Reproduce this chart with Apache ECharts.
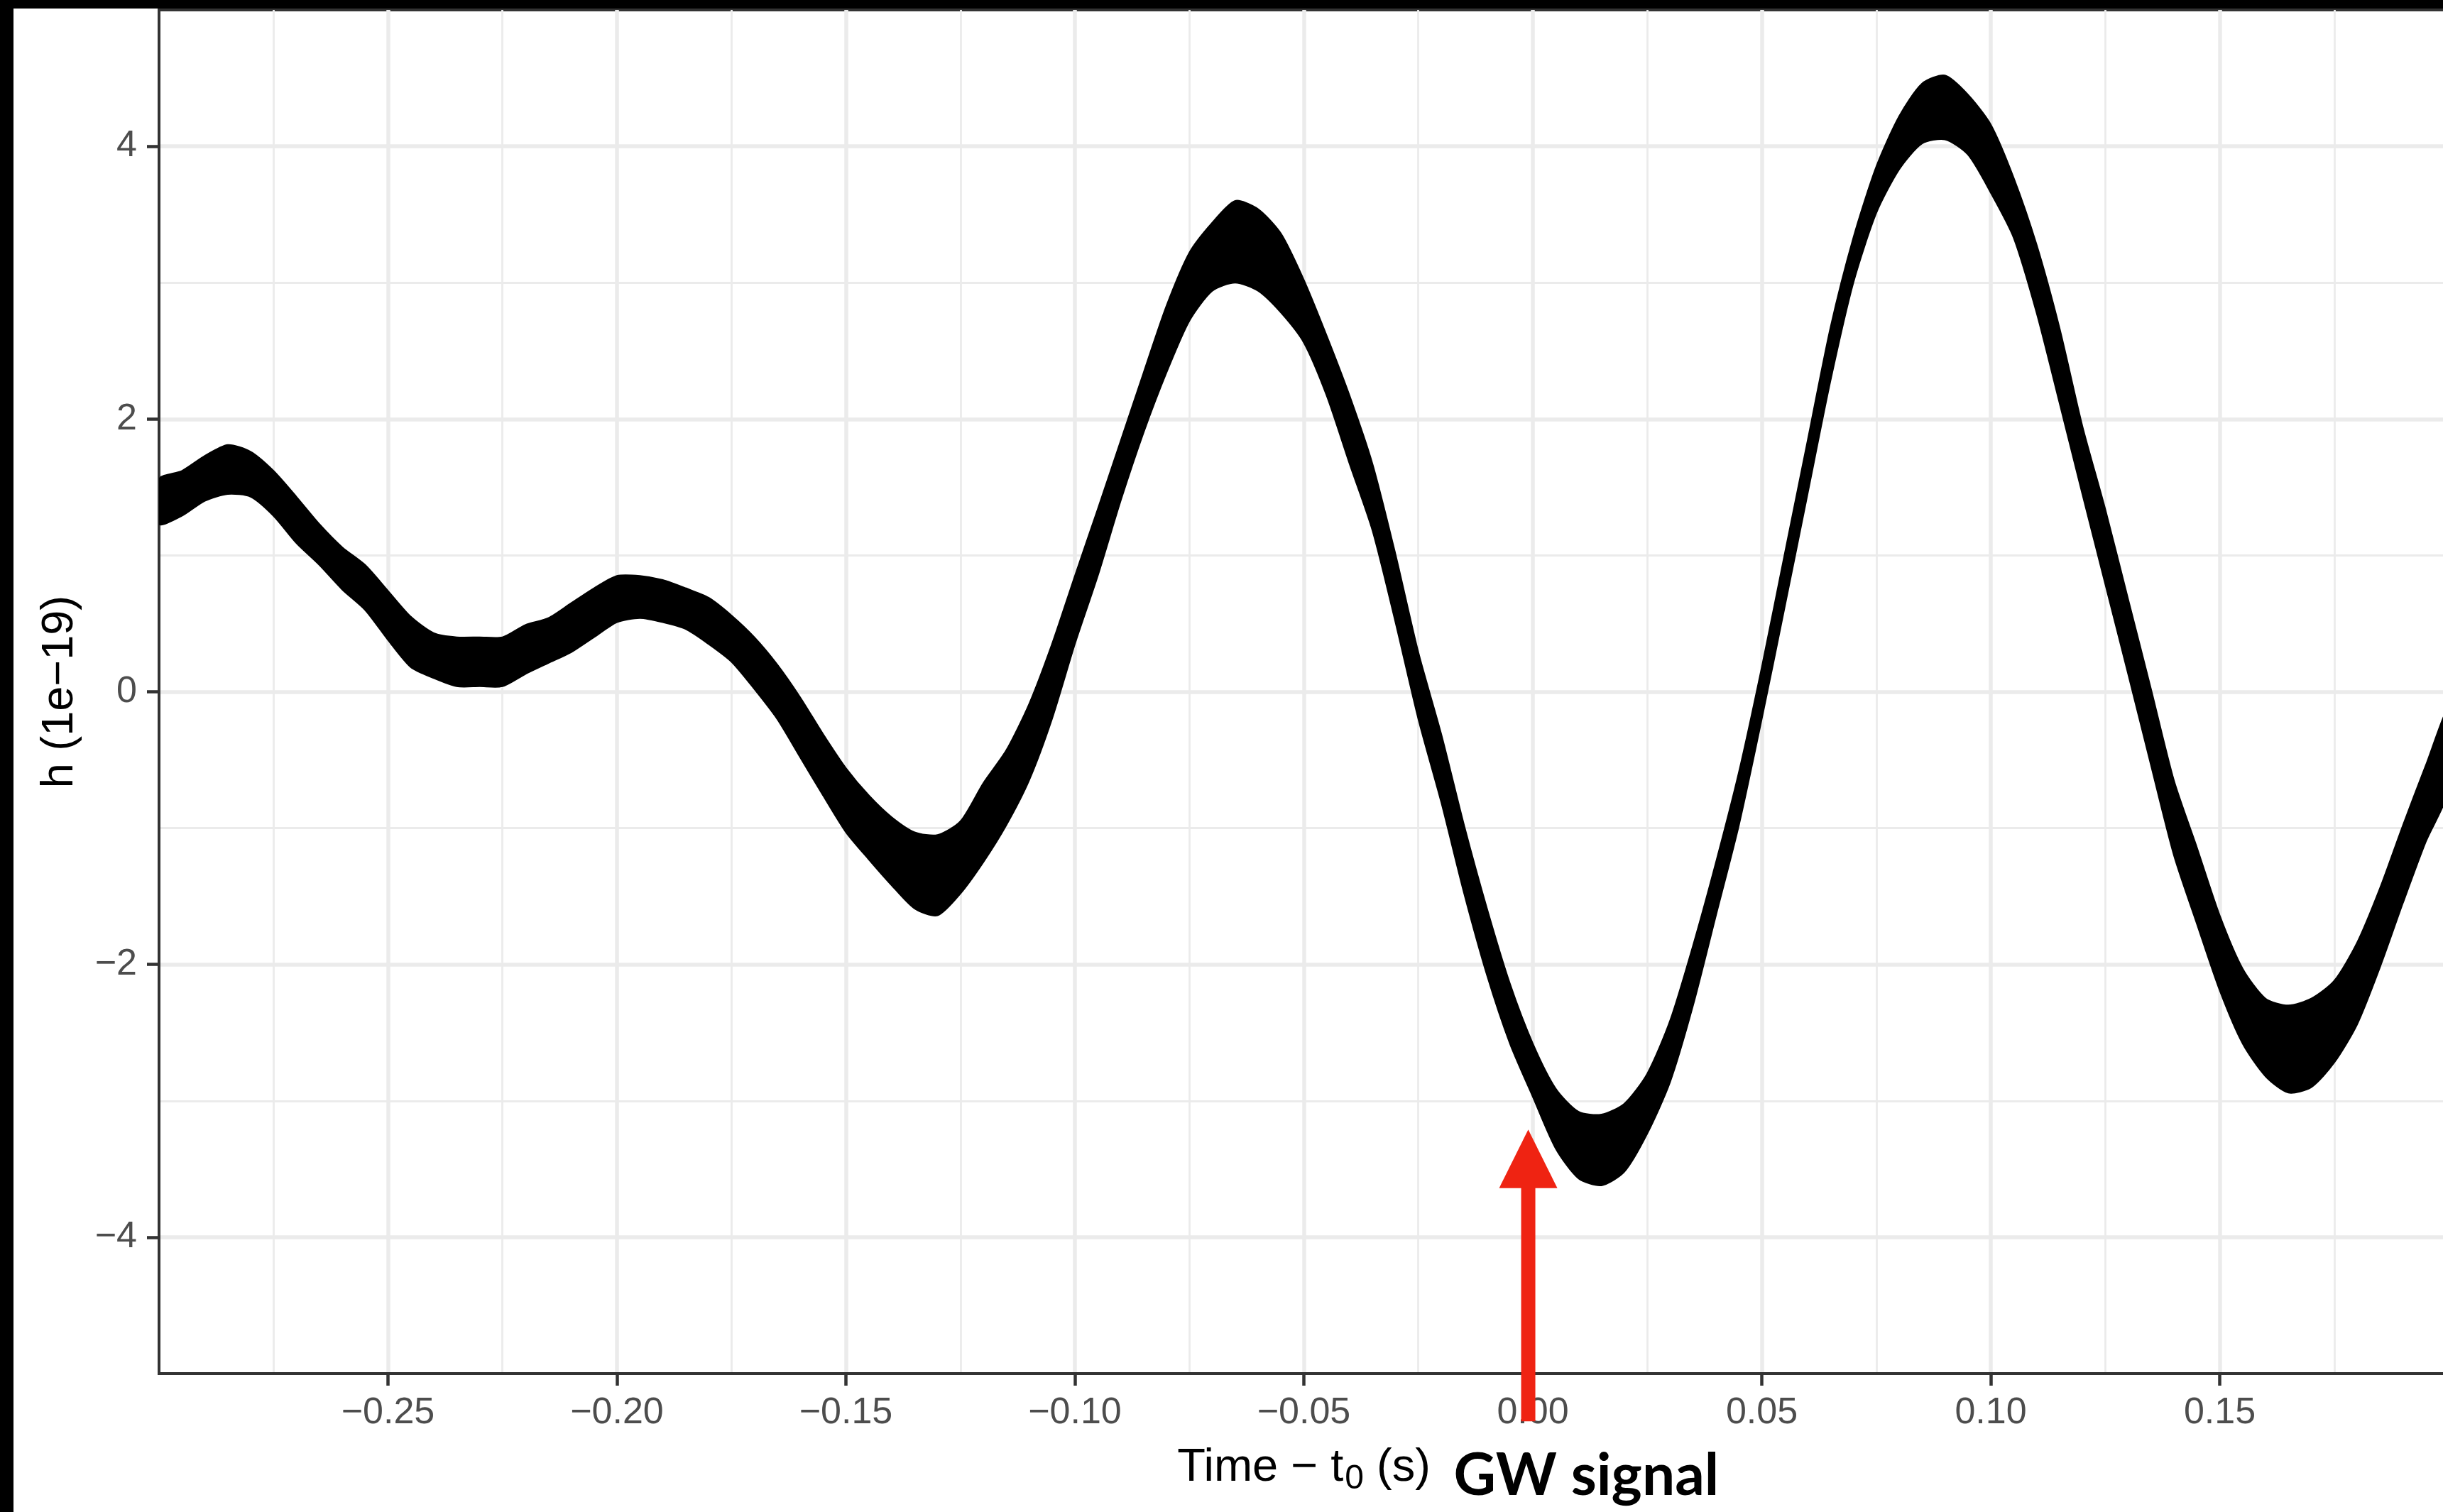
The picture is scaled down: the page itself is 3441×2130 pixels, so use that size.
<!DOCTYPE html>
<html>
<head>
<meta charset="utf-8">
<script src="https://cdn.jsdelivr.net/npm/echarts@6/dist/echarts.min.js"></script>
<style>
html, body { margin: 0; padding: 0; background: #000; width: 3441px; height: 2130px; overflow: hidden; }
#chart { position: absolute; left: 19px; top: 12px; width: 3422px; height: 2118px; background: #fff; }
</style>
</head>
<body>
<div id="chart"></div>
<script>
// sample times, s (every 5 ms)
var times = [
  -0.300, -0.295, -0.290, -0.285, -0.280, -0.275, -0.270, -0.265, -0.260, -0.255,
  -0.250, -0.245, -0.240, -0.235, -0.230, -0.225, -0.220, -0.215, -0.210, -0.205,
  -0.200, -0.195, -0.190, -0.185, -0.180, -0.175, -0.170, -0.165, -0.160, -0.155,
  -0.150, -0.145, -0.140, -0.135, -0.130, -0.125, -0.120, -0.115, -0.110, -0.105,
  -0.100, -0.095, -0.090, -0.085, -0.080, -0.075, -0.070, -0.065, -0.060, -0.055,
  -0.050, -0.045, -0.040, -0.035, -0.030, -0.025, -0.020, -0.015, -0.010, -0.005,
  0.000, 0.005, 0.010, 0.015, 0.020, 0.025, 0.030, 0.035, 0.040, 0.045,
  0.050, 0.055, 0.060, 0.065, 0.070, 0.075, 0.080, 0.085, 0.090, 0.095,
  0.100, 0.105, 0.110, 0.115, 0.120, 0.125, 0.130, 0.135, 0.140, 0.145,
  0.150, 0.155, 0.160, 0.165, 0.170, 0.175, 0.180, 0.185, 0.190, 0.195,
  0.200
];
// top edge of the noisy strain trace (1e-19)
var upper = [
  1.56, 1.62, 1.73, 1.81, 1.76, 1.62, 1.43, 1.23, 1.06, 0.93,
  0.74, 0.55, 0.43, 0.40, 0.40, 0.40, 0.49, 0.54, 0.65, 0.76,
  0.85, 0.85, 0.82, 0.76, 0.69, 0.56, 0.40, 0.20, -0.04, -0.31,
  -0.56, -0.76, -0.92, -1.03, -1.05, -0.95, -0.67, -0.43, -0.09, 0.35,
  0.85, 1.34, 1.84, 2.34, 2.83, 3.22, 3.44, 3.60, 3.54, 3.36,
  3.02, 2.61, 2.17, 1.67, 1.01, 0.29, -0.31, -0.98, -1.59, -2.14,
  -2.58, -2.91, -3.08, -3.10, -3.02, -2.80, -2.41, -1.86, -1.25, -0.59,
  0.18, 1.01, 1.84, 2.67, 3.33, 3.85, 4.22, 4.46, 4.52, 4.38,
  4.16, 3.77, 3.28, 2.67, 1.95, 1.34, 0.68, 0.02, -0.65, -1.14,
  -1.64, -2.03, -2.25, -2.30, -2.25, -2.12, -1.84, -1.44, -0.98, -0.54,
  -0.12
];
// bottom edge of the trace (1e-19)
var lower = [
  1.23, 1.29, 1.40, 1.45, 1.43, 1.29, 1.09, 0.93, 0.75, 0.60,
  0.38, 0.18, 0.10, 0.04, 0.04, 0.04, 0.13, 0.21, 0.29, 0.40,
  0.51, 0.54, 0.51, 0.46, 0.35, 0.22, 0.02, -0.20, -0.48, -0.76,
  -1.03, -1.23, -1.42, -1.59, -1.64, -1.48, -1.25, -0.98, -0.65, -0.20,
  0.35, 0.85, 1.40, 1.90, 2.34, 2.72, 2.94, 3.00, 2.94, 2.78,
  2.56, 2.17, 1.67, 1.18, 0.51, -0.20, -0.81, -1.48, -2.08, -2.58,
  -2.97, -3.35, -3.57, -3.62, -3.52, -3.24, -2.86, -2.30, -1.64, -0.98,
  -0.20, 0.62, 1.45, 2.28, 3.00, 3.51, 3.83, 4.02, 4.05, 3.94,
  3.66, 3.33, 2.78, 2.12, 1.45, 0.79, 0.13, -0.54, -1.20, -1.70,
  -2.19, -2.58, -2.82, -2.94, -2.90, -2.72, -2.44, -2.02, -1.55, -1.10,
  -0.72
];
var xTicks = [-0.25, -0.2, -0.15, -0.1, -0.05, 0, 0.05, 0.1, 0.15];
var xMinor = [-0.275, -0.225, -0.175, -0.125, -0.075, -0.025, 0.025, 0.075, 0.125, 0.175];
var yTicks = [-4, -2, 0, 2, 4];
var yMinor = [-3, -1, 1, 3];
// arrow marking the signal (data units)
var arrowX = -0.001, arrowFoot = -5.35, arrowBase = -3.64, arrowTip = -3.21;
var arrowText = 'GW signal';

var red = '#ef2312';
var chart = echarts.init(document.getElementById('chart'));

function minus(v, s) { return (v < -1e-9 ? '\u2212' : '') + s; }

var bandRows = times.map(function (t, i) { return [t, lower[i], upper[i]]; });

chart.setOption({
  animation: false,
  grid: {
    left: 205, right: -8, top: 2, bottom: 195,
    show: true, borderColor: '#333333', borderWidth: 4, backgroundColor: '#ffffff',
    outerBoundsMode: 'none'
  },
  xAxis: [{
    type: 'value', min: -0.3, max: 0.2, interval: 0.05,
    name: '{a|Time \u2212 t}{s|0}{a| (s)}', nameLocation: 'middle', nameGap: 93,
    nameTextStyle: {
      rich: {
        a: { fontSize: 65, color: '#000', fontFamily: 'Liberation Sans' },
        s: { fontSize: 48, color: '#000', fontFamily: 'Liberation Sans', verticalAlign: 'top', padding: [32, 0, 0, 2] }
      }
    },
    axisLine: { onZero: false, lineStyle: { color: '#333333', width: 4 } },
    axisTick: { customValues: xTicks, length: 17, lineStyle: { color: '#333333', width: 4.5 } },
    axisLabel: {
      customValues: xTicks, margin: 30, fontSize: 52, color: '#4d4d4d', fontFamily: 'Liberation Sans',
      formatter: function (v) { return minus(v, Math.abs(v).toFixed(2)); }
    },
    splitLine: { show: true, lineStyle: { color: '#ebebeb', width: 5.5 } }
  }, {
    type: 'value', min: -0.3, max: 0.2, interval: 0.05, position: 'bottom',
    axisLine: { show: false, onZero: false },
    axisTick: { show: false, customValues: xMinor },
    axisLabel: { show: false },
    splitLine: { show: true, lineStyle: { color: '#ebebeb', width: 2.8 } }
  }],
  yAxis: [{
    type: 'value', min: -5, max: 5, interval: 1,
    name: 'h (1e\u221219)', nameLocation: 'middle', nameGap: 108,
    nameTextStyle: { fontSize: 63, color: '#000', fontFamily: 'Liberation Sans' },
    axisLine: { show: true, onZero: false, lineStyle: { color: '#333333', width: 4 } },
    axisTick: { show: true, customValues: yTicks, length: 17, lineStyle: { color: '#333333', width: 4.5 } },
    axisLabel: {
      customValues: yTicks, margin: 31, fontSize: 52, color: '#4d4d4d', fontFamily: 'Liberation Sans',
      formatter: function (v) { return minus(v, String(Math.abs(v))); }
    },
    splitLine: { show: true, lineStyle: { color: '#ebebeb', width: 5.5 } }
  }, {
    type: 'value', min: -5, max: 5, interval: 1, position: 'left',
    axisLine: { show: false, onZero: false },
    axisTick: { show: false, customValues: yMinor },
    axisLabel: { show: false },
    splitLine: { show: true, lineStyle: { color: '#ebebeb', width: 2.8 } }
  }],
  series: [{
    type: 'custom',
    name: 'h',
    xAxisIndex: 0,
    yAxisIndex: 0,
    silent: true,
    clip: true,
    z: 3,
    data: bandRows,
    encode: { x: 0, y: [1, 2] },
    // the whole band is one smoothed outline: top edge left→right, bottom edge back
    renderItem: function (params, api) {
      if (params.dataIndex !== 0) return null;
      var pts = [];
      for (var i = 0; i < times.length; i++) pts.push(api.coord([times[i], upper[i]]));
      for (var j = times.length - 1; j >= 0; j--) pts.push(api.coord([times[j], lower[j]]));
      return {
        type: 'polygon',
        shape: { points: pts, smooth: 0.25 },
        style: { fill: '#000', stroke: '#000', lineWidth: 2 }
      };
    }
  }]
});

// arrow + label, placed through the axes
var px = function (t, v) { return chart.convertToPixel({ gridIndex: 0 }, [t, v]); };
var tip = px(arrowX, arrowTip), base = px(arrowX, arrowBase), foot = px(arrowX, arrowFoot);
chart.setOption({
  graphic: [{
    type: 'rect', z: 100, silent: true,
    shape: { x: base[0] - 10, y: base[1] - 1, width: 20, height: foot[1] - base[1] + 1 },
    style: { fill: red }
  }, {
    type: 'polygon', z: 100, silent: true,
    shape: { points: [[base[0] - 41, base[1]], [base[0] + 41, base[1]], [tip[0], tip[1]]] },
    style: { fill: red }
  }, {
    type: 'text', z: 100, silent: true,
    x: base[0] - 105, y: foot[1] + 77,
    style: {
      text: arrowText, fontSize: 82, fontWeight: 'bold', fontFamily: 'Lato',
      fill: '#000', align: 'left', verticalAlign: 'middle'
    }
  }]
});
</script>
</body>
</html>
